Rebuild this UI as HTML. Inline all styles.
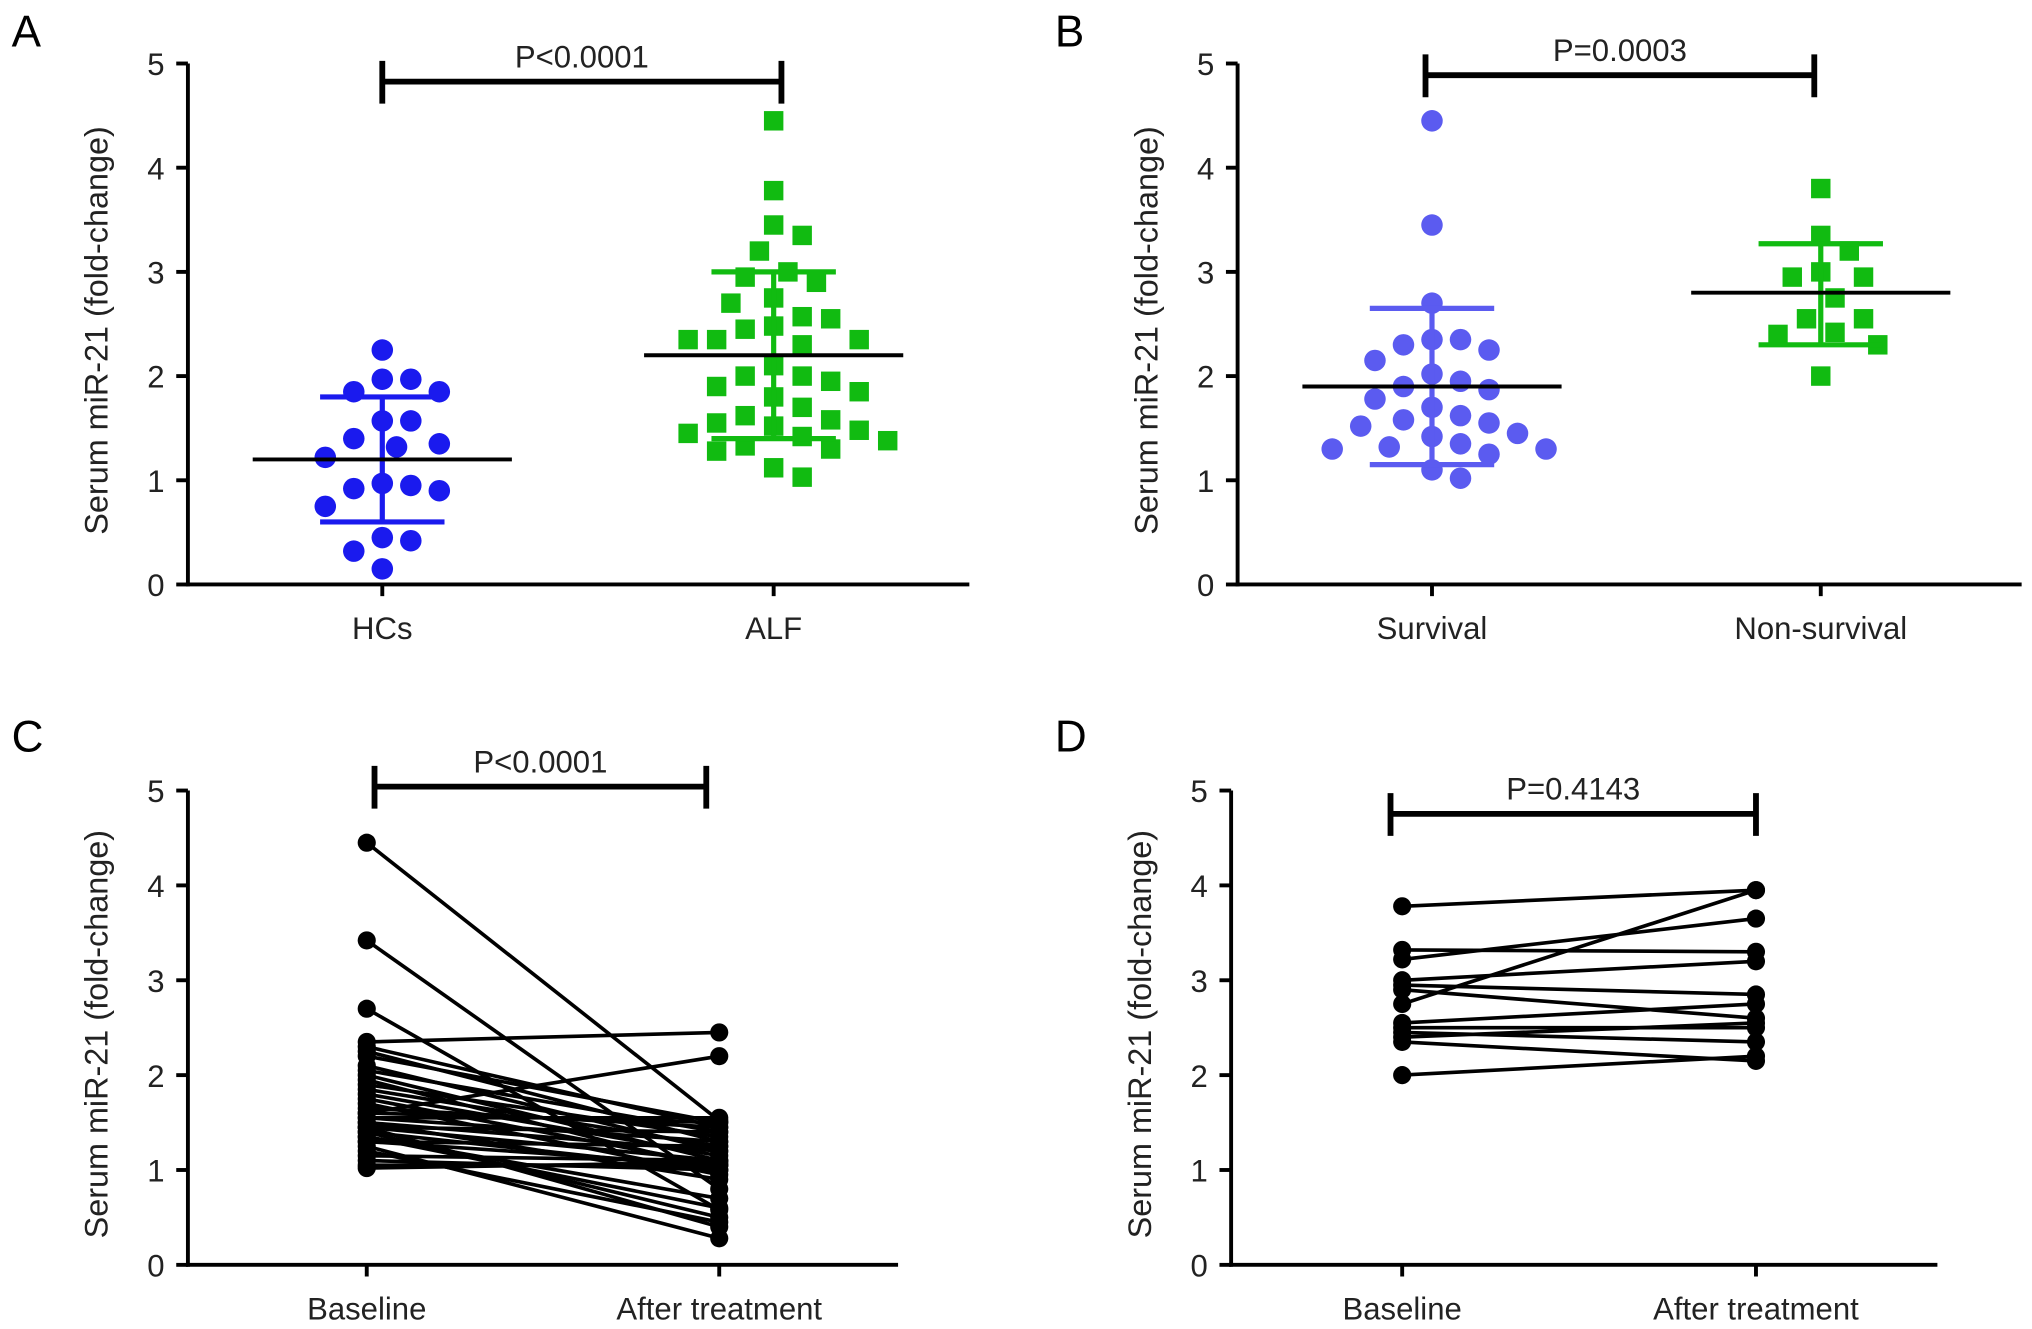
<!DOCTYPE html>
<html><head><meta charset="utf-8"><style>
html,body{margin:0;padding:0;background:#fff;}
svg{display:block;font-family:"Liberation Sans",sans-serif;}
</style></head><body>
<svg id="fig" width="2032" height="1329" viewBox="0 0 1568 1025.5" preserveAspectRatio="none" xmlns="http://www.w3.org/2000/svg"></svg>
<script>
const hcs = [2.25,1.97,1.97,1.85,1.85,1.57,1.57,1.4,1.35,1.32,1.22,0.97,0.95,0.92,0.9,0.75,0.45,0.42,0.32,0.15];
const alf = [4.45,3.78,3.45,3.35,3.2,3.0,2.95,2.9,2.75,2.7,2.57,2.55,2.48,2.45,2.35,2.35,2.35,2.3,2.1,2.0,2.0,1.95,1.9,1.85,1.8,1.7,1.62,1.58,1.55,1.52,1.48,1.45,1.42,1.38,1.33,1.3,1.28,1.12,1.03];
const survival = [4.45,3.45,2.7,2.35,2.35,2.3,2.25,2.15,2.02,1.95,1.9,1.87,1.78,1.7,1.62,1.58,1.55,1.52,1.45,1.42,1.35,1.32,1.3,1.3,1.25,1.1,1.02];
const nonSurvival = [3.8,3.35,3.2,3.0,2.95,2.95,2.75,2.55,2.55,2.42,2.4,2.3,2.0];
const statsA = {hcs:[1.2,0.6,1.8], alf:[2.2,1.4,3.0]};
const statsB = {survival:[1.9,1.15,2.65], nonSurvival:[2.8,2.3,3.27]};
const cBase = [4.45,3.42,2.7,2.35,1.6,2.3,2.25,2.2,2.1,2.05,2.0,1.95,1.9,1.85,1.8,1.75,1.7,1.65,1.6,1.55,1.5,1.5,1.45,1.45,1.4,1.4,1.35,1.3,1.3,1.25,1.2,1.15,1.1,1.05,1.02,1.45,1.35,1.55];
const cAfter = [1.52,0.8,0.58,2.45,2.2,1.45,1.3,1.5,1.2,1.4,1.1,1.0,1.35,1.25,1.15,1.05,0.95,1.45,1.5,1.3,1.2,0.9,1.4,1.1,1.0,0.5,0.7,1.25,1.05,0.28,0.45,1.1,1.0,1.05,1.08,0.4,0.6,1.55];
const dBase = [3.78,3.32,3.22,3.0,2.95,2.75,2.55,2.5,2.45,2.4,2.35,2.0,2.9];
const dAfter = [3.95,3.3,3.65,3.2,2.85,3.95,2.75,2.5,2.35,2.55,2.15,2.2,2.6];
const yTicks = ["0","1","2","3","4","5"];

const NS="http://www.w3.org/2000/svg";
const svg=document.getElementById('fig');
function mk(tag,attrs,parent){const e=document.createElementNS(NS,tag);for(const k in attrs)e.setAttribute(k,attrs[k]);(parent||svg).appendChild(e);return e;}

function panel(cfg){
  const g=mk('g',{});
  
  
  const y=v=>cfg.y0-(cfg.y0-cfg.y5)*v/5;
  cfg.yf=y;
  const lab=mk('text',{x:cfg.lx,y:cfg.ly,'font-size':34,fill:'#000'},g);lab.textContent=cfg.letter;
  
  
  const ya=mk('line',{x1:cfg.ax,y1:cfg.y5,x2:cfg.ax,y2:cfg.y0+1.5,stroke:'#000','stroke-width':3},g);
  
  
  const xa=mk('line',{x1:cfg.ax-1.5,y1:cfg.y0,x2:cfg.axEnd,y2:cfg.y0,stroke:'#000','stroke-width':3},g);
  
  
  yTicks.forEach((t,i)=>{
    const v=+t;
    mk('line',{x1:cfg.ax-9,y1:y(v),x2:cfg.ax,y2:y(v),stroke:'#000','stroke-width':3},g);
    const tx=mk('text',{x:cfg.ax-18,y:y(v)+9,'font-size':24,'text-anchor':'end',fill:'#222'},g);tx.textContent=t;
    
    
  });
  cfg.cats.forEach((c,i)=>{
    mk('line',{x1:cfg.cx[i],y1:cfg.y0,x2:cfg.cx[i],y2:cfg.y0+9,stroke:'#000','stroke-width':3},g);
    const tx=mk('text',{x:cfg.cx[i],y:cfg.y0+42,'font-size':24,'text-anchor':'middle',fill:'#222'},g);tx.textContent=c;
    
    
  });
  const ty=(cfg.y0+cfg.y5)/2+5;
  const tt=mk('text',{x:0,y:0,'font-size':25,'text-anchor':'middle',fill:'#222',transform:`translate(${cfg.ax-62},${ty}) rotate(-90)`},g);
  tt.textContent='Serum miR-21  (fold-change)';
  
  
  const b=cfg.br;
  const bg=mk('g',{},g);
  
  
  mk('line',{x1:b[0],y1:b[2],x2:b[1],y2:b[2],stroke:'#000','stroke-width':4.5},bg);
  mk('line',{x1:b[0],y1:b[2]-16,x2:b[0],y2:b[2]+17,stroke:'#000','stroke-width':4.5},bg);
  mk('line',{x1:b[1],y1:b[2]-16,x2:b[1],y2:b[2]+17,stroke:'#000','stroke-width':4.5},bg);
  const pt=mk('text',{x:(b[0]+b[1])/2,y:b[2]-11,'font-size':24,'text-anchor':'middle',fill:'#222'},bg);pt.textContent=cfg.p;
  
  
  cfg.g=g;
  return cfg;
}

function swarm(vals,cx,yf,dx,dy){
  const placed=[];const out=[];
  vals.forEach(v=>{
    const py=yf(v);let k=0,x=cx;
    while(true){
      const off=(k===0?0:(k%2?1:-1)*Math.ceil(k/2)*dx*0.5);
      x=cx+off;
      if(placed.every(p=>((p[0]-x)/dx)**2+((p[1]-py)/dy)**2>=1))break;
      k++;
    }
    placed.push([x,py]);out.push([x,py]);
  });
  return out;
}

function dots(cfg,vals,ci,color,shape,stats,name){
  const g=mk('g',{},cfg.g);
  
  
  const cx=cfg.cx[ci];
  swarm(vals,cx,cfg.yf,22,21).forEach(p=>{
    let e;
    if(shape==='c') e=mk('circle',{cx:p[0],cy:p[1],r:8.3,fill:color},g);
    else e=mk('rect',{x:p[0]-7.5,y:p[1]-7.5,width:15,height:15,fill:color},g);
    
    
  });
  const y=cfg.yf;
  const sg=mk('g',{},g);
  
  
  mk('line',{x1:cx,y1:y(stats[1]),x2:cx,y2:y(stats[2]),stroke:color,'stroke-width':4},sg);
  mk('line',{x1:cx-48,y1:y(stats[1]),x2:cx+48,y2:y(stats[1]),stroke:color,'stroke-width':4},sg);
  mk('line',{x1:cx-48,y1:y(stats[2]),x2:cx+48,y2:y(stats[2]),stroke:color,'stroke-width':4},sg);
  mk('line',{x1:cx-100,y1:y(stats[0]),x2:cx+100,y2:y(stats[0]),stroke:'#000','stroke-width':3},sg);
}

function paired(cfg,a,b,name){
  const g=mk('g',{},cfg.g);
  
  
  const y=cfg.yf;
  a.forEach((v,i)=>{
    const l=mk('line',{x1:cfg.cx[0],y1:y(v),x2:cfg.cx[1],y2:y(b[i]),stroke:'#000','stroke-width':2.8},g);
    
    
  });
  a.forEach((v,i)=>{
    const c1=mk('circle',{cx:cfg.cx[0],cy:y(v),r:7,fill:'#000'},g);
    
    
    const c2=mk('circle',{cx:cfg.cx[1],cy:y(b[i]),r:7,fill:'#000'},g);
    
    
  });
}

const A=panel({name:'panel-a',letter:'A',lx:9,ly:36,ax:145,axEnd:748,y0:451,y5:49,cats:['HCs','ALF'],cx:[295,597],br:[295,603,63],p:'P<0.0001'});
dots(A,hcs,0,'#1a1aee','c',statsA.hcs,'hcs-series');
dots(A,alf,1,'#11bb11','s',statsA.alf,'alf-series');
const B=panel({name:'panel-b',letter:'B',lx:814,ly:36,ax:955,axEnd:1560,y0:451,y5:49,cats:['Survival','Non-survival'],cx:[1105,1405],br:[1100,1400,58],p:'P=0.0003'});
dots(B,survival,0,'#5b5bf0','c',statsB.survival,'survival-series');
dots(B,nonSurvival,1,'#11bb11','s',statsB.nonSurvival,'non-survival-series');
const C=panel({name:'panel-c',letter:'C',lx:9,ly:580,ax:145,axEnd:693,y0:976,y5:610,cats:['Baseline','After treatment'],cx:[283,555],br:[289,545,607],p:'P<0.0001'});
paired(C,cBase,cAfter,'paired-lines-c');
const D=panel({name:'panel-d',letter:'D',lx:814,ly:580,ax:950,axEnd:1495,y0:976,y5:610,cats:['Baseline','After treatment'],cx:[1082,1355],br:[1073,1355,628],p:'P=0.4143'});
paired(D,dBase,dAfter,'paired-lines-d');
</script>
</body></html>
